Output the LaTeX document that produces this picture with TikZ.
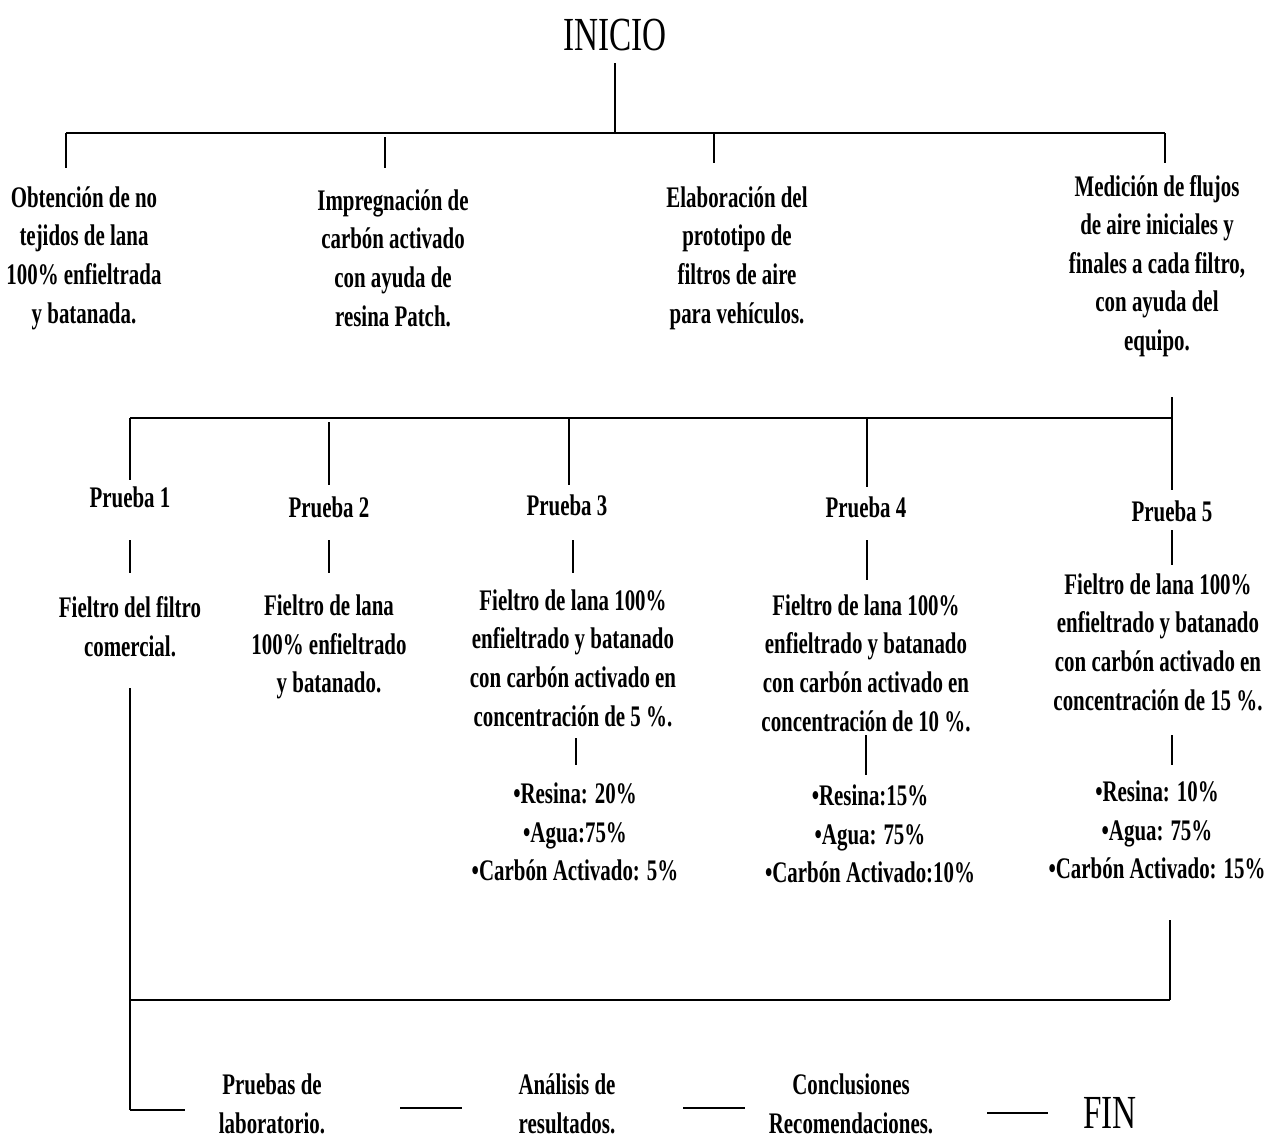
\documentclass[tikz,border=0pt]{standalone}
\usepackage{fontspec}
\setmainfont{Liberation Serif}[FakeStretch=0.7]
\begin{document}
\begin{tikzpicture}[x=0.02cm, y=-0.02cm, line width=1.2pt,
	txt/.style={align=center, font=\bfseries\fontsize{17}{22}\selectfont, inner sep=1pt},
	big/.style={font=\fontsize{27}{30}\selectfont, inner sep=1pt},
	bar/.style={line width=1.6pt}]
	\useasboundingbox (0,0) rectangle (1264,1143);
	
	% inicio y primer nivel
	\node[big] (inicio) at (615,35) {INICIO};
	\node[txt] (obt) at (84,258) {Obtención de no\\tejidos de lana\\100\% enfieltrada\\y batanada.};
	\node[txt] (imp) at (393,258) {Impregnación de\\carbón activado\\con ayuda de\\resina Patch.};
	\node[txt] (ela) at (737,258) {Elaboración del\\prototipo de\\filtros de aire\\para vehículos.};
	\node[txt] (med) at (1157,266) {Medición de flujos\\de aire iniciales y\\finales a cada filtro,\\con ayuda del\\equipo.};
	
	\coordinate (t0) at (615,63);
	\coordinate (t1) at (615,133);
	\coordinate (b1l) at (66,133);
	\coordinate (b1r) at (1165,133);
	\coordinate (d1) at (66,168);
	\coordinate (u2) at (385,137);
	\coordinate (d2) at (385,168);
	\coordinate (u3) at (714,133);
	\coordinate (d3) at (714,163);
	\coordinate (d4) at (1165,163);
	
	\draw (t0) -- (t1);
	\draw[bar] (b1l) -- (b1r);
	\draw (b1l) -- (d1);
	\draw (u2) -- (d2);
	\draw (u3) -- (d3);
	\draw (b1r) -- (d4);
	
	% pruebas
	\node[txt] (p1) at (130,497) {Prueba 1};
	\node[txt] (p2) at (329,507) {Prueba 2};
	\node[txt] (p3) at (567,505) {Prueba 3};
	\node[txt] (p4) at (866,507) {Prueba 4};
	\node[txt] (p5) at (1172,511) {Prueba 5};
	
	\coordinate (s0) at (1172,397);
	\coordinate (b2l) at (130,418);
	\coordinate (b2r) at (1172,418);
	\coordinate (q1) at (130,480);
	\coordinate (q2u) at (329,422);
	\coordinate (q2) at (329,485);
	\coordinate (q3u) at (569,418);
	\coordinate (q3) at (569,485);
	\coordinate (q4u) at (867,418);
	\coordinate (q4) at (867,487);
	\coordinate (q5) at (1172,490);
	
	\draw (s0) -- (b2r);
	\draw[bar] (b2l) -- (b2r);
	\draw (b2l) -- (q1);
	\draw (q2u) -- (q2);
	\draw (q3u) -- (q3);
	\draw (q4u) -- (q4);
	\draw (b2r) -- (q5);
	
	% fieltros
	\node[txt] (f1) at (130,627) {Fieltro del filtro\\comercial.};
	\node[txt] (f2) at (329,647) {Fieltro de lana\\100\% enfieltrado\\y batanado.};
	\node[txt] (f3) at (573,658) {Fieltro de lana 100\%\\enfieltrado y batanado\\con carbón activado en\\concentración de 5 \%.};
	\node[txt] (f4) at (866,663) {Fieltro de lana 100\%\\enfieltrado y batanado\\con carbón activado en\\concentración de 10 \%.};
	\node[txt] (f5) at (1158,642) {Fieltro de lana 100\%\\enfieltrado y batanado\\con carbón activado en\\concentración de 15 \%.};
	
	\coordinate (r1u) at (130,540);
	\coordinate (r1) at (130,573);
	\coordinate (r2u) at (329,540);
	\coordinate (r2) at (329,573);
	\coordinate (r3u) at (573,540);
	\coordinate (r3) at (573,573);
	\coordinate (r4u) at (867,540);
	\coordinate (r4) at (867,580);
	\coordinate (r5u) at (1172,530);
	\coordinate (r5) at (1172,565);
	
	\draw (r1u) -- (r1);
	\draw (r2u) -- (r2);
	\draw (r3u) -- (r3);
	\draw (r4u) -- (r4);
	\draw (r5u) -- (r5);
	
	% composiciones
	\node[txt] (c3) at (575,832) {•Resina: 20\%\\•Agua:75\%\\•Carbón Activado: 5\%};
	\node[txt] (c4) at (870,834) {•Resina:15\%\\•Agua: 75\%\\•Carbón Activado:10\%};
	\node[txt] (c5) at (1157,830) {•Resina: 10\%\\•Agua: 75\%\\•Carbón Activado: 15\%};
	
	\coordinate (k3u) at (576,738);
	\coordinate (k3) at (576,765);
	\coordinate (k4u) at (866,735);
	\coordinate (k4) at (866,775);
	\coordinate (k5u) at (1172,735);
	\coordinate (k5) at (1172,765);
	
	\draw (k3u) -- (k3);
	\draw (k4u) -- (k4);
	\draw (k5u) -- (k5);
	
	% cierre
	\coordinate (e1) at (130,688);
	\coordinate (e2) at (130,1000);
	\coordinate (e3) at (130,1110);
	\coordinate (e4) at (185,1110);
	\coordinate (g1) at (1170,920);
	\coordinate (g2) at (1170,1000);
	
	\draw (e1) -- (e3);
	\draw[bar] (e2) -- (g2);
	\draw (g1) -- (g2);
	\draw[bar] (e3) -- (e4);
	
	% ultima fila
	\node[txt] (lab) at (272,1104) {Pruebas de\\laboratorio.};
	\node[txt] (ana) at (567,1104) {Análisis de\\resultados.};
	\node[txt] (con) at (851,1104) {Conclusiones\\Recomendaciones.};
	\node[big] (fin) at (1110,1113) {FIN};
	
	\coordinate (m1l) at (400,1108);
	\coordinate (m1r) at (462,1108);
	\coordinate (m2l) at (683,1108);
	\coordinate (m2r) at (745,1108);
	\coordinate (m3l) at (987,1113);
	\coordinate (m3r) at (1048,1113);
	
	\draw[bar] (m1l) -- (m1r);
	\draw[bar] (m2l) -- (m2r);
	\draw[bar] (m3l) -- (m3r);
\end{tikzpicture}
\end{document}
